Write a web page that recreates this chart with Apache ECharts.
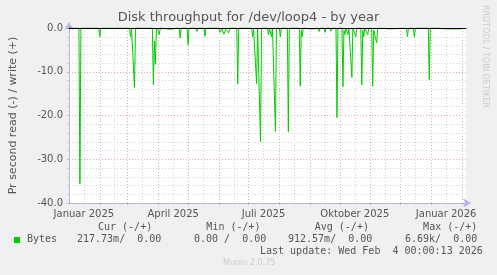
<!DOCTYPE html>
<html><head><meta charset="utf-8">
<script src="https://cdn.jsdelivr.net/npm/echarts@6/dist/echarts.min.js"></script>
<style>html,body{margin:0;padding:0;background:#f0f0f0}#c{width:497px;height:275px}</style>
</head><body><div id="c"></div>
<script>
// ---- data (read bytes per second, drawn negative) ----
const dates = [
 '2025-01-01','2025-01-11','2025-01-12','2025-01-13','2025-01-31','2025-02-01','2025-02-02',
 '2025-03-03','2025-03-04','2025-03-05','2025-03-07','2025-03-08','2025-03-09',
 '2025-03-18','2025-03-19','2025-03-21','2025-03-26','2025-03-27','2025-03-28','2025-03-29','2025-03-30','2025-03-31',
 '2025-04-01','2025-04-02','2025-04-03','2025-04-13','2025-04-14','2025-04-22','2025-04-23','2025-04-24',
 '2025-04-30','2025-05-01','2025-05-02','2025-05-09','2025-05-10','2025-05-11','2025-05-17','2025-05-18','2025-05-19',
 '2025-06-01','2025-06-02','2025-06-04','2025-06-06','2025-06-08','2025-06-11','2025-06-12',
 '2025-06-19','2025-06-20','2025-06-21','2025-07-04','2025-07-05','2025-07-06','2025-07-08','2025-07-09','2025-07-10',
 '2025-07-12','2025-07-13','2025-07-14','2025-07-20','2025-07-21','2025-07-22','2025-07-24','2025-07-25',
 '2025-07-27','2025-07-28','2025-07-29','2025-08-01','2025-08-02','2025-08-03','2025-08-09','2025-08-10','2025-08-11',
 '2025-08-21','2025-08-22','2025-08-23','2025-08-24','2025-08-25','2025-08-31','2025-09-01','2025-09-05',
 '2025-09-09','2025-09-10','2025-09-11','2025-09-15','2025-09-16','2025-09-17','2025-09-21','2025-09-22','2025-09-23',
 '2025-09-27','2025-09-28','2025-09-29','2025-10-03','2025-10-04','2025-10-05','2025-10-06','2025-10-07',
 '2025-10-08','2025-10-09','2025-10-10','2025-10-12','2025-10-13','2025-10-14','2025-10-16','2025-10-17','2025-10-18',
 '2025-10-22','2025-10-23','2025-10-24','2025-10-25','2025-10-26','2025-10-28','2025-10-29','2025-10-30',
 '2025-11-02','2025-11-03','2025-11-04','2025-11-06','2025-11-07','2025-11-08','2025-11-20','2025-11-21',
 '2025-12-07','2025-12-08','2025-12-09','2025-12-14','2025-12-15','2025-12-16',
 '2025-12-29','2025-12-30','2025-12-31','2026-01-07','2026-01-08','2026-01-15','2026-01-22','2026-02-01'
];
const readValues = [
 0, 0, -35.6, 0, 0, -2.0, 0,
 0, -2.0, -0.3, 0, -13.6, 0,
 0, -0.3, 0, 0, -12.9, -3.0, -8.3, -0.5, 0,
 0, -1.5, 0, -0.3, 0, 0, -2.3, 0,
 0, -3.9, 0, 0, -0.8, 0, 0, -1.9, 0,
 0, -1.0, -0.2, -1.4, -0.3, -1.1, 0,
 0, -12.8, 0, 0, -2.0, -0.3, 0, -12.7, 0,
 0, -26.0, 0, 0, -1.6, 0, -2.0, 0,
 0, -23.7, 0, 0, -2.0, 0, 0, -23.7, 0,
 0, -13.3, -0.5, -2.0, 0, -0.2, -0.3, -0.2,
 0, -0.8, 0, 0, -1.0, 0, 0, -0.7, 0,
 0, -20.5, 0, 0, -13.4, -0.5, -1.5, 0,
 0, -1.5, 0, 0, -11.3, 0, 0, -2.0, 0,
 0, -13.0, -0.5, -2.0, 0, 0, -1.5, 0,
 0, -13.3, -0.5, -0.5, -3.4, 0, -0.2, 0,
 0, -2.0, 0, 0, -2.0, 0,
 0, -11.8, 0, 0, -0.2, -0.2, -0.2, -0.2
];
const majorGrid = ['2025-02-01','2025-03-01','2025-04-01','2025-05-01','2025-06-01','2025-07-01','2025-08-01',
 '2025-09-01','2025-10-01','2025-11-01','2025-12-01','2026-01-01','2026-02-01'];
const minorGrid = ['2025-01-16','2025-02-16','2025-03-16','2025-04-16','2025-05-16','2025-06-16','2025-07-16',
 '2025-08-16','2025-09-16','2025-10-16','2025-11-16','2025-12-16','2026-01-16'];
const labelDates = ['2025-01-16','2025-04-16','2025-07-16','2025-10-16','2026-01-16'];
const labelTexts = ['Januar 2025','April 2025','Juli 2025','Oktober 2025','Januar 2026'];
const legendHeader = ['Cur (-/+)','Min (-/+)','Avg (-/+)','Max (-/+)'];
const legendValues = ['217.73m/  0.00','0.00 /  0.00','912.57m/  0.00','6.69k/  0.00'];
const seriesName = 'Bytes';

const DAY = 86400000;
const t = s => { const p = s.split('-').map(Number); return Date.UTC(p[0], p[1]-1, p[2]) / DAY; };
const xMin = t('2025-01-01'), xMax = t('2026-02-05');
const labelMap = {}; labelDates.forEach((d,i)=>{ labelMap[t(d)] = labelTexts[i]; });

const chart = echarts.init(document.getElementById('c'), null, {renderer:'canvas'});
const lav = '#b4b4e6', red = '#e8a8a8', gray = '#d2d2d2';
const mono = '"DejaVu Sans Mono", monospace';
const txt = '#555';
chart.setOption({
  backgroundColor: '#f0f0f0',
  animation: false,
  grid: {left: 66, top: 28, width: 400, height: 175, show: true, backgroundColor: '#ffffff', borderWidth: 0},
  xAxis: [
    {type:'value', min:xMin, max:xMax, position:'bottom',
     axisLine:{show:true, onZero:false, lineStyle:{color:lav, width:1}, symbol:['none','arrow'], symbolSize:[7,8], symbolOffset:[0,5]},
     axisTick:{show:true, length:2, lineStyle:{color:gray}, customValues: minorGrid.map(t)},
     axisLabel:{show:true, customValues: labelDates.map(t), formatter: v => labelMap[v] || '',
       color:txt, fontFamily:'"DejaVu Sans"', fontSize:10, margin:6, hideOverlap:false},
     splitLine:{show:true, lineStyle:{color:gray, type:[1,2], width:1}}, z:1},
    {type:'value', min:xMin, max:xMax, position:'bottom',
     axisLine:{show:false, onZero:false},
     axisTick:{show:true, length:2, lineStyle:{color:red}, customValues: majorGrid.map(t)},
     axisLabel:{show:false},
     splitLine:{show:true, lineStyle:{color:red, type:[1,2], width:1}}, z:1},
    {type:'value', min:xMin, max:xMax, position:'top',
     axisLine:{show:true, onZero:false, lineStyle:{color:'#000', width:1}},
     axisTick:{show:false}, axisLabel:{show:false}, splitLine:{show:false}, z:10}
  ],
  yAxis: {type:'value', min:-40, max:0, interval:10,
    name:'Pr second read (-) / write (+)', nameLocation:'middle', nameGap:50, nameRotate:90,
    nameTextStyle:{color:txt, fontFamily:'"DejaVu Sans"', fontSize:11},
    axisLine:{show:true, lineStyle:{color:lav}, symbol:['none','arrow'], symbolSize:[7,8], symbolOffset:[0,6]},
    axisTick:{show:true, length:2, lineStyle:{color:red}},
    minorTick:{show:true, splitNumber:5, length:2, lineStyle:{color:gray}},
    axisLabel:{color:txt, fontFamily:'"DejaVu Sans"', fontSize:10, margin:6, formatter: v => v.toFixed(1)},
    splitLine:{show:true, lineStyle:{color:red, type:[1,2]}},
    minorSplitLine:{show:true, lineStyle:{color:gray, type:[1,2]}}
  },
  series: [{
    name: seriesName, type:'line', xAxisIndex:0, showSymbol:false, symbol:'none',
    lineStyle:{color:'#00cc00', width:1}, z:5,
    data: dates.map((d,i)=>[t(d), readValues[i]])
  }],
  graphic: [
    {type:'text', left:'center', top:11, style:{text:'Disk throughput for /dev/loop4 - by year', fill:txt, font:'13px "DejaVu Sans"'}},
    {type:'text', x:489, y:5, rotation:-Math.PI/2, style:{text:'RRDTOOL / TOBI OETIKER', fill:'#cccccc', font:'8px "DejaVu Sans"'}},
    {type:'text', x:98, y:222, style:{text:legendHeader.join('         '), fill:txt, font:'10px '+mono}},
    {type:'rect', shape:{x:14, y:237, width:6, height:6}, style:{fill:'#00cc00'}},
    {type:'text', x:27, y:234, style:{text:seriesName, fill:txt, font:'10px '+mono}},
    {type:'text', x:77, y:234, style:{text:legendValues[0], fill:txt, font:'10px '+mono}},
    {type:'text', x:194, y:234, style:{text:legendValues[1], fill:txt, font:'10px '+mono}},
    {type:'text', x:288, y:234, style:{text:legendValues[2], fill:txt, font:'10px '+mono}},
    {type:'text', x:405, y:234, style:{text:legendValues[3], fill:txt, font:'10px '+mono}},
    {type:'text', x:260, y:246, style:{text:'Last update: Wed Feb  4 00:00:13 2026', fill:txt, font:'10px '+mono}},
    {type:'text', x:223, y:259, style:{text:'Munin 2.0.75', fill:'#cccccc', font:'8px "DejaVu Sans"'}}
  ]
});
</script></body></html>
